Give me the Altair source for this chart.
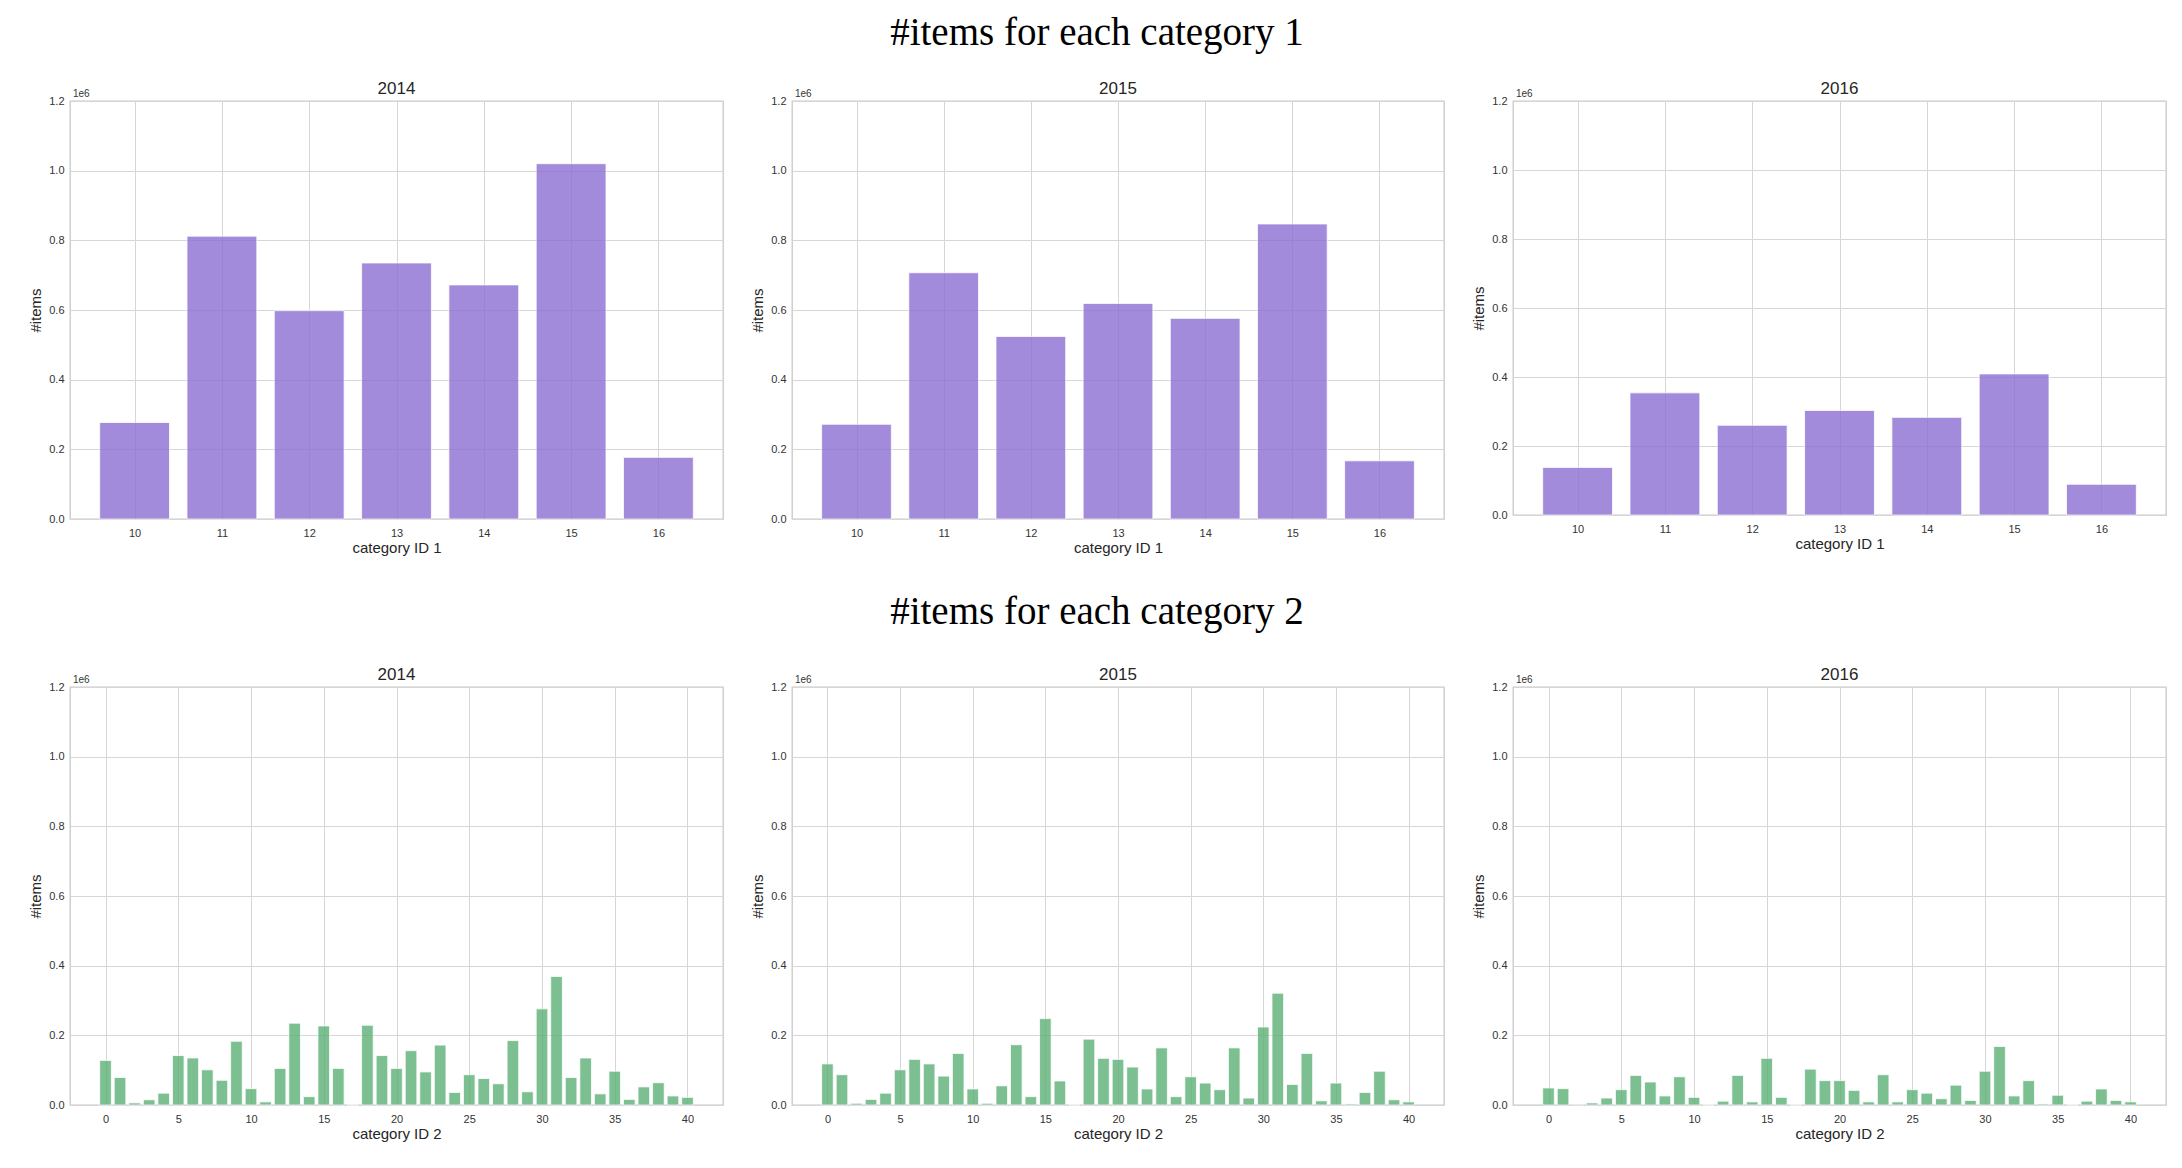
import altair as alt
import pandas as pd

years = ["2014", "2015", "2016"]

cat1_ids = [10, 11, 12, 13, 14, 15, 16]
cat1_2014 = [277000, 812000, 598000, 735000, 672000, 1020000, 177000]
cat1_2015 = [272000, 707000, 524000, 619000, 576000, 847000, 167000]
cat1_2016 = [138000, 354000, 260000, 303000, 283000, 409000, 89000]

cat2_ids = list(range(41))
cat2_2014 = [128000, 79000, 6000, 15000, 34000, 142000, 135000, 101000, 71000, 183000,
             47000, 9000, 105000, 235000, 24000, 227000, 105000, 0, 229000, 142000,
             105000, 156000, 95000, 172000, 36000, 87000, 76000, 61000, 185000, 38000,
             276000, 369000, 79000, 135000, 32000, 97000, 16000, 52000, 64000, 26000, 22000]
cat2_2015 = [118000, 87000, 5000, 16000, 34000, 101000, 131000, 118000, 83000, 148000,
             46000, 5000, 55000, 173000, 24000, 248000, 69000, 0, 189000, 134000,
             131000, 109000, 46000, 164000, 24000, 81000, 63000, 44000, 164000, 20000,
             224000, 321000, 59000, 148000, 12000, 63000, 3000, 36000, 97000, 15000, 9000]
cat2_2016 = [49000, 47000, 2000, 6000, 20000, 44000, 85000, 66000, 26000, 81000,
             22000, 0, 11000, 85000, 9000, 134000, 22000, 0, 103000, 70000,
             70000, 42000, 9000, 87000, 9000, 44000, 34000, 18000, 57000, 13000,
             97000, 168000, 26000, 70000, 3000, 28000, 0, 11000, 46000, 13000, 9000]

y_ticks = [0, 200000, 400000, 600000, 800000, 1000000, 1200000]
cat1_ticks = cat1_ids
cat2_ticks = [0, 5, 10, 15, 20, 25, 30, 35, 40]

PURPLE = "#8b6fd3"
GREEN = "#5cb177"
SANS = "Liberation Sans"
SERIF = "Liberation Serif"


def panel(ids, vals, year, color, domain, ticks, xtitle, w, h):
    df = pd.DataFrame({"cat": ids, "n": vals})
    bars = (
        alt.Chart(df)
        .transform_calculate(x0="datum.cat - 0.4", x1="datum.cat + 0.4")
        .mark_bar(color=color, opacity=0.8, stroke="white", strokeWidth=0.8)
        .encode(
            x=alt.X(
                "x0:Q",
                scale=alt.Scale(domain=domain, nice=False, zero=False),
                axis=alt.Axis(values=ticks, title=xtitle, labelPadding=8, titlePadding=2,
                              format="d"),
            ),
            x2="x1:Q",
            y=alt.Y(
                "n:Q",
                scale=alt.Scale(domain=[0, 1200000], nice=False),
                axis=alt.Axis(values=y_ticks, title="#items",
                              labelExpr="format(datum.value / 1000000, '.1f')",
                              labelPadding=6, minExtent=25, maxExtent=25, titlePadding=2),
            ),
            y2=alt.datum(0),
        )
    )
    offset = (
        alt.Chart(alt.Data(values=[{"t": "1e6"}]))
        .mark_text(align="left", baseline="bottom", fontSize=10, font=SANS, color="#333333")
        .encode(x=alt.value(3), y=alt.value(-2), text="t:N")
    )
    return alt.layer(bars, offset).properties(
        width=w, height=h,
        title=alt.TitleParams(year, font=SANS, fontSize=17, fontWeight="normal",
                              color="#262626", offset=-9),
    )


row1 = alt.hconcat(
    panel(cat1_ids, cat1_2014, years[0], PURPLE, [9.26, 16.74], cat1_ticks, "category ID 1", 653, 418),
    panel(cat1_ids, cat1_2015, years[1], PURPLE, [9.26, 16.74], cat1_ticks, "category ID 1", 652, 418),
    panel(cat1_ids, cat1_2016, years[2], PURPLE, [9.26, 16.74], cat1_ticks, "category ID 1", 653, 414),
    spacing=25,
    title=alt.TitleParams("#items for each category 1", font=SERIF, fontSize=39,
                          fontWeight="normal", anchor="middle", offset=26, color="black"),
)

row2 = alt.hconcat(
    panel(cat2_ids, cat2_2014, years[0], GREEN, [-2.44, 42.44], cat2_ticks, "category ID 2", 653, 418),
    panel(cat2_ids, cat2_2015, years[1], GREEN, [-2.44, 42.44], cat2_ticks, "category ID 2", 652, 418),
    panel(cat2_ids, cat2_2016, years[2], GREEN, [-2.44, 42.44], cat2_ticks, "category ID 2", 653, 418),
    spacing=25,
    title=alt.TitleParams("#items for each category 2", font=SERIF, fontSize=39,
                          fontWeight="normal", anchor="middle", offset=33, color="black"),
)

chart = (
    alt.vconcat(row1, row2, spacing=37)
    .properties(padding={"left": 19, "top": 6, "right": 2, "bottom": 5})
    .configure_axis(
        labelFont=SANS, labelFontSize=11, labelColor="#333333",
        titleFont=SANS, titleFontSize=15, titleFontWeight="normal", titleColor="#262626",
        gridColor="#d6d6d6", gridWidth=1, ticks=False, domain=False,
    )
    .configure_view(stroke="#c8c8c8", strokeWidth=1.3)
)

chart.save("out.html", embed_options={"renderer": "svg", "actions": False})
